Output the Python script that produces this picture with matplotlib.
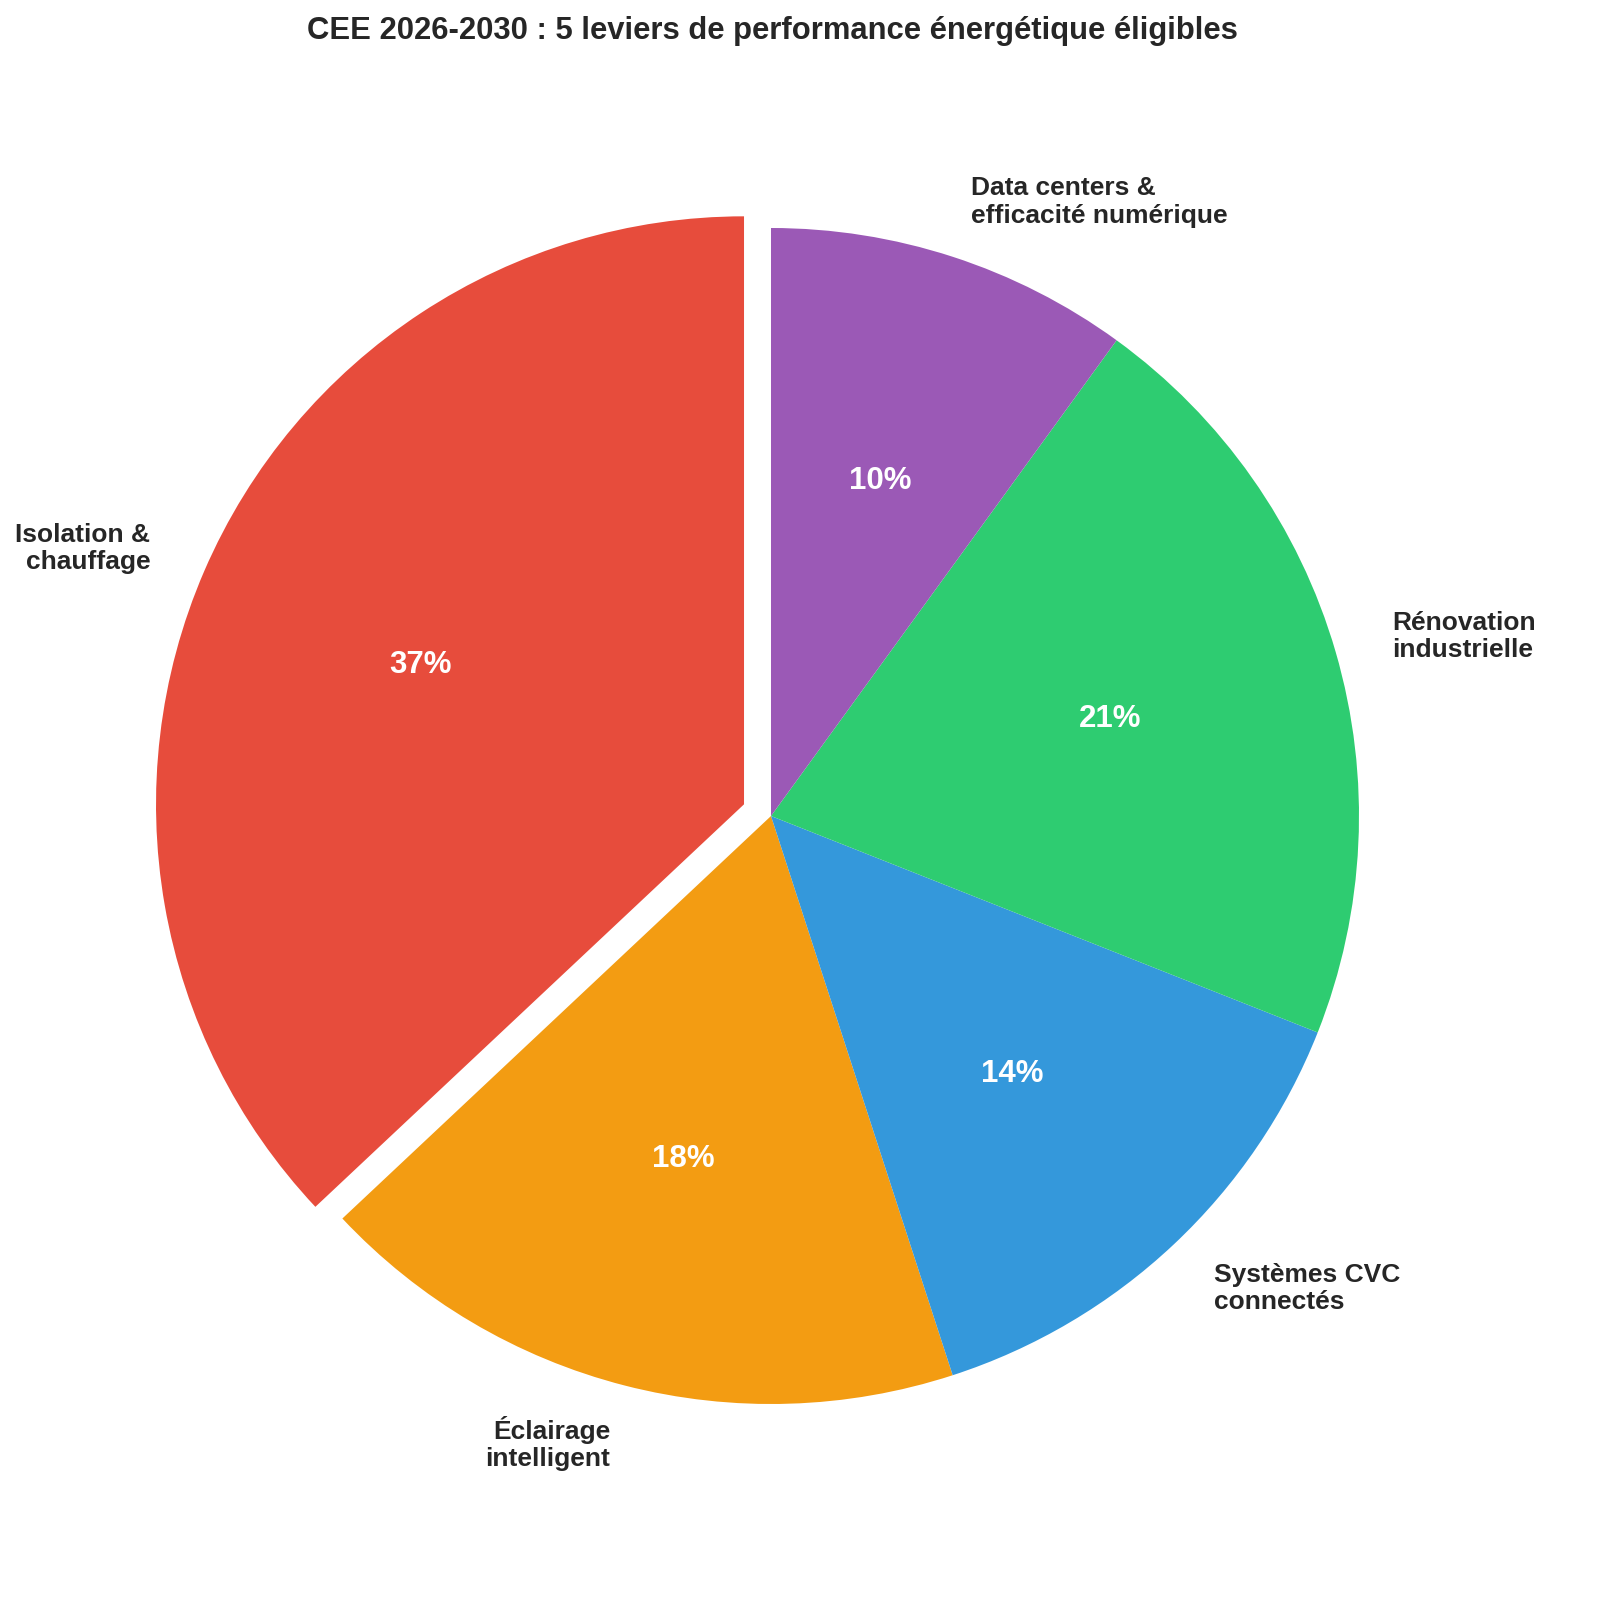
import matplotlib
matplotlib.use("Agg")
import matplotlib.pyplot as plt

plt.rcParams['font.family'] = ['Liberation Sans', 'DejaVu Sans']

categories = ["Isolation &\nchauffage", "Éclairage\nintelligent", "Systèmes CVC\nconnectés",
              "Rénovation\nindustrielle", "Data centers &\nefficacité numérique"]
values = [37, 18, 14, 21, 10]
colors = ["#e74c3c", "#f39c12", "#3498db", "#2ecc71", "#9b59b6"]
explode = [0.05, 0, 0, 0, 0]
title = "CEE 2026-2030 : 5 leviers de performance énergétique éligibles"

W, H = 1600, 1615
fig = plt.figure(figsize=(W / 100, H / 100), dpi=100)
ax = fig.add_axes([0, 0, 1, 1])
cx, cy, r = 771, 817, 588

wedges, texts, autotexts = ax.pie(
    values, labels=categories, colors=colors, explode=explode,
    startangle=90, counterclock=True, autopct='%1.0f%%', pctdistance=0.6,
    labeldistance=1.1,
    textprops=dict(fontsize=19, fontweight='bold', color='#262626'))
for t in autotexts:
    t.set_color('white')
    t.set_fontsize(22.5)
    t.set_fontweight('bold')

ax.set_xlim(-cx / r, (W - cx) / r)
ax.set_ylim(-(H - cy) / r, cy / r)
ax.set_aspect('auto')
ax.axis('off')

fig.text(772 / W, 1 - 31 / H, title, ha='center', va='center',
         fontsize=22.3, fontweight='bold', color='#262626')

fig.savefig("out.png", dpi=100)
